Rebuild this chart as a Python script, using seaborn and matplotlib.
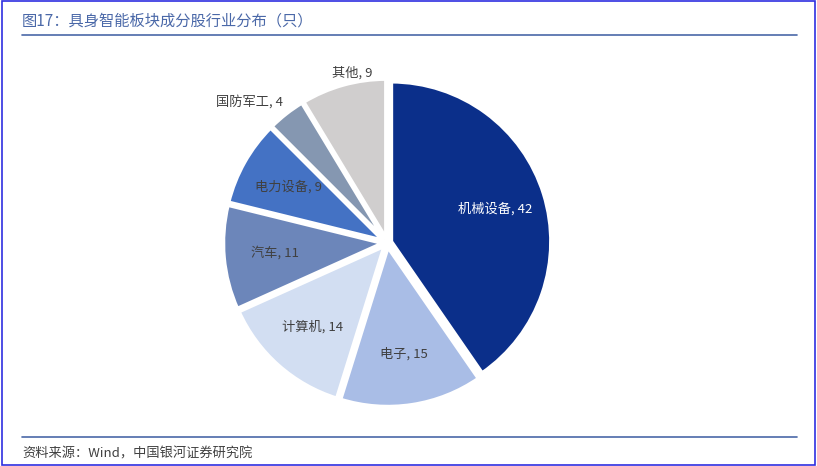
import matplotlib
matplotlib.use("Agg")
import matplotlib.pyplot as plt
import seaborn as sns
from matplotlib.patches import Rectangle
from matplotlib.lines import Line2D

categories = ["机械设备", "电子", "计算机", "汽车", "电力设备", "国防军工", "其他"]
values = [42, 15, 14, 11, 9, 4, 9]
colors = ["#0b2f8a", "#a9bde6", "#d2def2", "#6c86ba", "#4472c4", "#8597b1", "#d0cece"]
text_colors = ["white", "#404040", "#404040", "#404040", "#404040", "#404040", "#404040"]

sns.set_theme(style="white")
plt.rcParams['font.family'] = ['Noto Sans CJK SC', 'DejaVu Sans']

fig = plt.figure(figsize=(8.17, 4.66), dpi=100)
fig.patches.append(Rectangle((0.002, 0.002), 0.996, 0.996, transform=fig.transFigure,
                             fill=False, edgecolor="#2f2fe0", linewidth=1.2))
fig.text(0.027, 0.955, "图17：具身智能板块成分股行业分布（只）", color="#4a68a8", fontsize=11, va="center")
fig.lines.append(Line2D([0.027, 0.975], [0.925, 0.925], transform=fig.transFigure, color="#4a68a8", lw=1.2))
fig.lines.append(Line2D([0.027, 0.975], [0.062, 0.062], transform=fig.transFigure, color="#4a68a8", lw=1.2))
fig.text(0.027, 0.025, "资料来源：Wind，中国银河证券研究院", color="#404040", fontsize=9.5, style="italic", va="center")

ax = fig.add_axes([0.229, 0.049, 0.49, 0.86])
labels = [f"{c}, {v}" for c, v in zip(categories, values)]
wedges, texts = ax.pie(values, labels=labels, colors=colors, startangle=90, counterclock=False,
                       explode=[0.025] * len(values), labeldistance=0.68,
                       wedgeprops=dict(edgecolor="white", linewidth=3),
                       textprops=dict(fontsize=9.5, ha="center", va="center"))
for t, c in zip(texts, text_colors):
    t.set_color(c)
    t.set_ha("center")
texts[5].set_position((-0.86, 0.88))
texts[6].set_position((-0.22, 1.06))
ax.set_aspect("equal")
fig.savefig("out.png", dpi=100)
